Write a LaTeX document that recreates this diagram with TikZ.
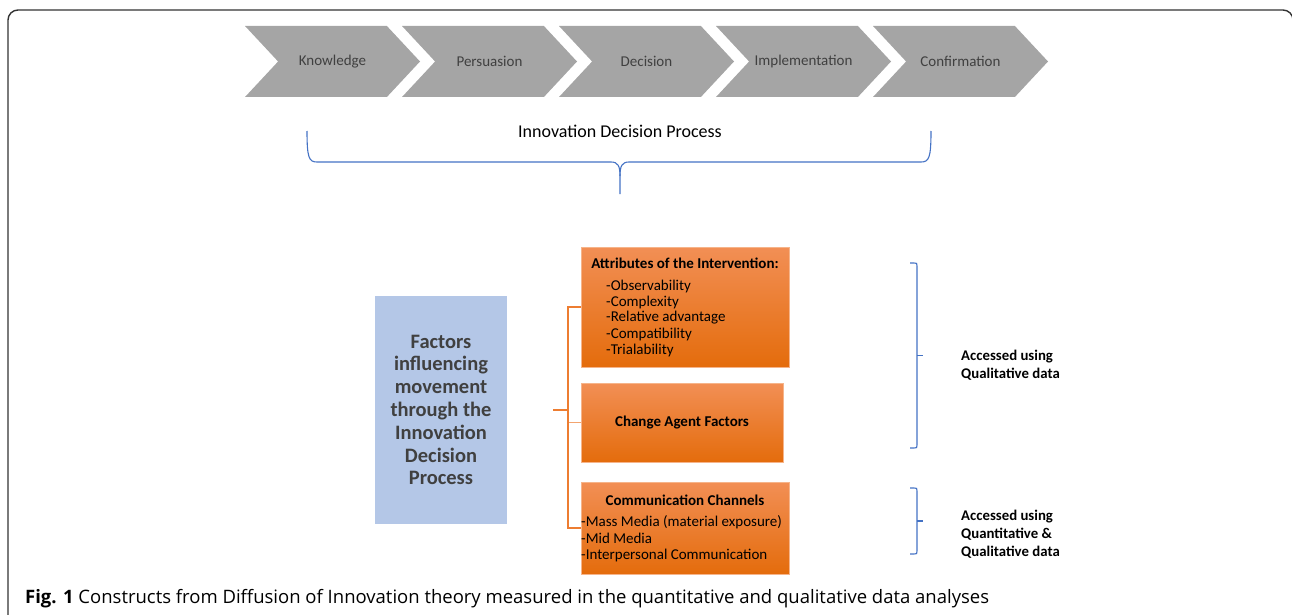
\documentclass[tikz,border=0pt]{standalone}
\usepackage{fontspec}
\setmainfont{Carlito}
\newfontfamily\capfont{Open Sans}
\usetikzlibrary{shapes.symbols}

\definecolor{phasegray}{HTML}{A5A5A5}
\definecolor{phasetext}{HTML}{404040}
\definecolor{factorblue}{HTML}{B4C7E7}
\definecolor{boxtop}{RGB}{242,143,85}
\definecolor{boxbottom}{RGB}{228,108,12}
\definecolor{boxedge}{HTML}{F6B48A}
\definecolor{linkorange}{HTML}{ED7D31}
\definecolor{bracebue}{HTML}{4472C4}

\begin{document}
\begin{tikzpicture}
            \tikzset{x=1pt, y=-1pt}
            \tikzstyle{phase}=[signal, signal from=west, signal to=east, signal pointer angle=94,
                fill=phasegray, text=phasetext, minimum width=175pt, minimum height=71pt,
                inner sep=0pt, font=\fontsize{15}{18}\selectfont]
            \tikzstyle{factor}=[rectangle, fill=boxedge, top color=boxtop, bottom color=boxbottom,
                draw=boxedge, line width=0.8pt, inner sep=0pt]
            \tikzstyle{lbl}=[inner sep=0pt, font=\fontsize{15}{18}\selectfont]
            \tikzstyle{item}=[lbl, anchor=west]
            \tikzstyle{brace}=[draw=bracebue, line width=1.1pt]

            \useasboundingbox (0,0) rectangle (1292,615);
            \draw[line width=1.4pt, draw=black!80, rounded corners=10pt]
                (8,620) -- (8,10) -- (1293,10) -- (1293,620);

            % stages
            \draw (332.5, 61.5)  node[phase]   (k)     {Knowledge};
            \draw (489.5, 61.5)  node[phase]   (p)     {Persuasion};
            \draw (646.5, 61.5)  node[phase]   (d)     {Decision};
            \draw (803.5, 61.5)  node[phase]   (i)     {Implementation};
            \draw (960.5, 61.5)  node[phase]   (c)     {Confirmation};

            \draw (620, 131)     node[inner sep=0pt, font=\fontsize{18}{21}\selectfont] (idp) {Innovation Decision Process};

            \draw[brace] (307,131) .. controls (307,158) and (309,162) .. (317,162) -- (611,162)
                .. controls (618,162) and (620,166) .. (620,176) -- (620,194);
            \draw[brace] (931,131) .. controls (931,158) and (929,162) .. (921,162) -- (629,162)
                .. controls (622,162) and (620,166) .. (620,176);

            % factors
            \draw (441, 410)     node[rectangle, fill=factorblue, minimum width=132pt, minimum height=228pt,
                align=center, text=phasetext, font=\bfseries\fontsize{20.5}{22.8}\selectfont] (fac)
                {Factors\\influencing\\movement\\through the\\Innovation\\Decision\\Process};

            \draw (685, 307)     node[factor, minimum width=208pt, minimum height=120pt]   (attr)  {};
            \draw (682, 422.5)   node[factor, minimum width=202pt, minimum height=79pt]    (agent) {};
            \draw (685, 528)     node[factor, minimum width=208pt, minimum height=92pt]    (comm)  {};

            \draw (685, 263)     node[lbl, font=\bfseries\fontsize{15}{18}\selectfont]   (attrt) {Attributes of the Intervention:};
            \draw (606, 286)     node[item]  (a1)    {-Observability};
            \draw (606, 302)     node[item]  (a2)    {-Complexity};
            \draw (606, 318)     node[item]  (a3)    {-Relative advantage};
            \draw (606, 334)     node[item]  (a4)    {-Compatibility};
            \draw (606, 350)     node[item]  (a5)    {-Trialability};

            \draw (682, 423)     node[lbl, font=\bfseries\fontsize{15}{18}\selectfont]   (agentt) {Change Agent Factors};

            \draw (685, 500)     node[lbl, font=\bfseries\fontsize{15}{18}\selectfont]   (commt) {Communication Channels};
            \draw (581, 522)     node[item]  (c1)    {-Mass Media (material exposure)};
            \draw (581, 538.5)   node[item]  (c2)    {-Mid Media};
            \draw (581, 555)     node[item]  (c3)    {-Interpersonal Communication};

            \coordinate (hub)  at (553, 410);
            \coordinate (fork) at (568, 410);
            \draw[linkorange, line width=1.6pt] (hub) -- (fork);
            \draw[linkorange, line width=1.6pt] (fork) |- (attr.west);
            \draw[linkorange!70, line width=1.6pt] (fork) |- (agent.west);
            \draw[linkorange, line width=1.6pt] (fork) |- (comm.west);

            % data sources
            \draw[brace] (910,263) -- (914,263) .. controls (917,263) .. (917,266) -- (917,445)
                .. controls (917,448) .. (914,448) -- (910,448);
            \draw[brace] (917,355.5) -- (923,355.5);
            \draw[brace] (910,488) -- (914,488) .. controls (917,488) .. (917,491) -- (917,551)
                .. controls (917,554) .. (914,554) -- (910,554);
            \draw[brace] (917,521) -- (923,521);

            \draw (961, 365)     node[lbl, anchor=west, align=left, font=\bfseries\fontsize{14.8}{18}\selectfont] (qual)
                {Accessed using\\Qualitative data};
            \draw (961, 534)     node[lbl, anchor=west, align=left, font=\bfseries\fontsize{14.8}{18}\selectfont] (mixed)
                {Accessed using\\Quantitative \&\\Qualitative data};

            \draw (25, 599)      node[anchor=west, inner sep=0pt, font=\capfont\fontsize{18.5}{22}\selectfont] (cap)
                {\textbf{Fig. 1} Constructs from Diffusion of Innovation theory measured in the quantitative and qualitative data analyses};
        \end{tikzpicture}
\end{document}
